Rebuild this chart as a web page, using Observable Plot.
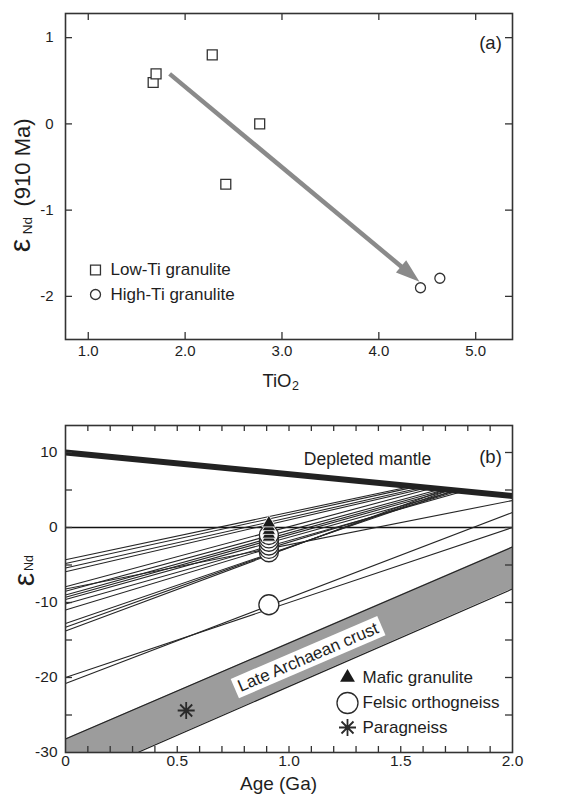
<!DOCTYPE html>
<html><head><meta charset="utf-8">
<script src="https://cdn.jsdelivr.net/npm/d3@7"></script>
<script src="https://cdn.jsdelivr.net/npm/@observablehq/plot@0.6"></script>
<style>
body{margin:0;background:#fff;}
#chart svg{display:block;}
</style></head><body><div id="chart"></div>
<script>
// ---------------- Panel (a) data ----------------
const lowTiO2 = [1.67, 1.70, 2.28, 2.77, 2.42];
const lowEps = [0.48, 0.58, 0.80, 0.00, -0.70];
const highTiO2 = [4.43, 4.63];
const highEps = [-1.90, -1.79];
const trendTiO2 = [1.84, 4.42];
const trendEps = [0.58, -1.83];
const tiO2Ticks = [1, 2, 3, 4, 5];
const epsTicksA = [-2, -1, 0, 1];
const legendA = ["Low-Ti granulite", "High-Ti granulite"];

// ---------------- Panel (b) data ----------------
const evoEps0   = [-4.3, -4.8, -5.4, -5.9, -7.9, -8.2, -8.5, -9.0, -9.3, -9.6, -10.2, -11.0, -12.8, -13.3, -13.8, -20.0, -20.8];
const evoEndAge = [1.55, 1.57, 1.60, 1.62, 1.64, 2.00, 1.68, 1.70, 1.72, 1.75, 1.78, 1.76, 1.74, 1.72, 1.70, 2.00, 2.00];
const evoEndEps = [5.50, 5.45, 5.36, 5.30, 5.24, 3.60, 5.13, 5.07, 5.01, 4.93, 4.84, 4.90, 4.95, 5.01, 5.07, 0.00, 2.00];
const mantleAge = [0, 2];
const mantleEps = [10, 4.2];
const crustAge = [0, 2];
const crustTop = [-28.2, -2.6];
const crustBottom = [-34.2, -8.2];
const sampleAge = 0.91;
const maficEps = [-1.3, -0.9, -0.4, 0.1, 0.6];
const felsicEps = [-3.3, -2.85, -2.4, -1.9, -1.45, -1.0];
const felsicLowEps = [-10.3];
const paraAge = [0.54];
const paraEps = [-24.4];
const crustLabelAge = 1.085, crustLabelEps = -17.3;
const ageTicks = [0, 0.5, 1.0, 1.5, 2.0];
const ageTickMarks = [0.1, 0.2, 0.3, 0.4, 0.5, 0.6, 0.7, 0.8, 0.9, 1.0, 1.1, 1.2, 1.3, 1.4, 1.5, 1.6, 1.7, 1.8, 1.9];
const epsTicksB = [-30, -20, -10, 0, 10];
const epsTickMarksB = [-25, -20, -15, -10, -5, 0, 5, 10];
const legendB = ["Mafic granulite", "Felsic orthogneiss", "Paragneiss"];

// ---------------- common ----------------
const FONT = "'Liberation Sans', Arial, Helvetica, sans-serif";
const W = 577;
const INK = "#1e1e1e";
const AXIS = "#333";
const MID = {textAnchor: "middle", lineAnchor: "middle"};
const START = {textAnchor: "start", lineAnchor: "middle"};

const arrowHead = {draw(ctx, size) {
  const r = Math.sqrt(size / Math.PI);
  ctx.moveTo(0, 0); ctx.lineTo(-0.4 * r, 1.2 * r); ctx.lineTo(0.4 * r, 1.2 * r); ctx.closePath();
}};
const asterisk8 = {draw(ctx, size) {
  const r = Math.sqrt(size / Math.PI);
  const d = r * Math.SQRT1_2;
  ctx.moveTo(0, -r); ctx.lineTo(0, r);
  ctx.moveTo(-r, 0); ctx.lineTo(r, 0);
  ctx.moveTo(-d, -d); ctx.lineTo(d, d);
  ctx.moveTo(-d, d); ctx.lineTo(d, -d);
}};

// ---------------- Panel (a) ----------------
const A = {height: 400, ml: 65, mr: 65, mt: 13, mb: 61, xDomain: [0.765, 5.38], yDomain: [-2.5, 1.28]};
const fwA = W - A.ml - A.mr;
const fhA = A.height - A.mt - A.mb;
const sxA = d3.scaleLinear(A.xDomain, [A.ml, W - A.mr]);
const syA = d3.scaleLinear(A.yDomain, [A.height - A.mb, A.mt]);
const trendAngle = Math.atan2(syA(trendEps[1]) - syA(trendEps[0]), sxA(trendTiO2[1]) - sxA(trendTiO2[0])) * 180 / Math.PI;

const low = lowTiO2.map((x, i) => ({x, y: lowEps[i]}));
const high = highTiO2.map((x, i) => ({x, y: highEps[i]}));
const trend = [{x1: trendTiO2[0], y1: trendEps[0], x2: trendTiO2[1], y2: trendEps[1]}];

const sq = {symbol: "square", r: 5.6, stroke: AXIS, strokeWidth: 1.3, fill: "white"};
const ci = {symbol: "circle", r: 5, stroke: AXIS, strokeWidth: 1.3, fill: "white"};

const plotA = Plot.plot({
  width: W, height: A.height,
  marginLeft: A.ml, marginRight: A.mr, marginTop: A.mt, marginBottom: A.mb,
  style: {fontFamily: FONT, fontSize: "15px", color: INK, background: "white", overflow: "visible"},
  x: {domain: A.xDomain, axis: null},
  y: {domain: A.yDomain, axis: null},
  marks: [
    Plot.arrow(trend, {x1: "x1", y1: "y1", x2: "x2", y2: "y2", stroke: "#8a8a8a", strokeWidth: 4.5, headLength: 0, insetEnd: 16, strokeLinecap: "butt"}),
    Plot.dot(trend, {x: "x2", y: "y2", symbol: arrowHead, r: 20, fill: "#8a8a8a", rotate: trendAngle + 90}),
    Plot.dot(low, {x: "x", y: "y", ...sq}),
    Plot.dot(high, {x: "x", y: "y", ...ci}),
    // legend
    Plot.dot(legendA.slice(0, 1), {frameAnchor: "bottom-left", dx: 30, dy: -69.5, ...sq}),
    Plot.dot(legendA.slice(1, 2), {frameAnchor: "bottom-left", dx: 30, dy: -45, ...ci}),
    Plot.text(legendA.slice(0, 1), {text: d => d, frameAnchor: "bottom-left", dx: 45, dy: -69.5, ...START, fontSize: 17, fill: INK}),
    Plot.text(legendA.slice(1, 2), {text: d => d, frameAnchor: "bottom-left", dx: 45, dy: -45, ...START, fontSize: 17, fill: INK}),
    Plot.text(["(a)"], {text: d => d, frameAnchor: "top-right", dx: -22, dy: 30, ...MID, fontSize: 18.5, fill: INK}),
    // inward ticks
    Plot.ruleX(tiO2Ticks, {x: d => d, insetTop: fhA - 7, stroke: AXIS, strokeWidth: 1.3}),
    Plot.ruleX(tiO2Ticks, {x: d => d, insetBottom: fhA - 7, stroke: AXIS, strokeWidth: 1.3}),
    Plot.ruleY(epsTicksA, {y: d => d, insetRight: fwA - 7, stroke: AXIS, strokeWidth: 1.3}),
    Plot.ruleY(epsTicksA, {y: d => d, insetLeft: fwA - 7, stroke: AXIS, strokeWidth: 1.3}),
    Plot.axisX(tiO2Ticks, {anchor: "bottom", tickSize: 0, tickPadding: 6, tickFormat: d => d.toFixed(1), label: null, fontSize: 15}),
    Plot.axisY(epsTicksA, {anchor: "left", tickSize: 0, tickPadding: 12, tickFormat: d => String(d), label: null, fontSize: 15}),
    // axis titles
    Plot.text(["TiO"], {text: d => d, frameAnchor: "bottom", dx: 2.5, dy: 42, textAnchor: "end", lineAnchor: "middle", fontSize: 18.5, fill: INK}),
    Plot.text(["2"], {text: d => d, frameAnchor: "bottom", dx: 3, dy: 46, ...START, fontSize: 12.5, fill: INK}),
    Plot.text(["ε"], {text: d => d, frameAnchor: "left", dx: -45, dy: 69, rotate: -90, ...MID, fontSize: 30, fill: INK}),
    Plot.text(["Nd"], {text: d => d, frameAnchor: "left", dx: -38, dy: 49, rotate: -90, ...MID, fontSize: 13.5, fill: INK}),
    Plot.text(["(910 Ma)"], {text: d => d, frameAnchor: "left", dx: -43, dy: -14, rotate: -90, ...MID, fontSize: 22, fill: INK}),
    Plot.frame({stroke: AXIS, strokeWidth: 1.6})
  ]
});

// ---------------- Panel (b) ----------------
const B = {height: 396, ml: 65, mr: 65, mt: 25, mb: 44, xDomain: [0, 2], yDomain: [-30, 13.6]};
const fwB = W - B.ml - B.mr;
const fhB = B.height - B.mt - B.mb;
const sxB = d3.scaleLinear(B.xDomain, [B.ml, W - B.mr]);
const syB = d3.scaleLinear(B.yDomain, [B.height - B.mb, B.mt]);
const crustAngle = Math.atan2(syB(crustTop[1]) - syB(crustTop[0]), sxB(crustAge[1]) - sxB(crustAge[0])) * 180 / Math.PI;

const evo = evoEps0.map((e, i) => ({a0: 0, e0: e, a1: evoEndAge[i], e1: evoEndEps[i]}));
const mantle = mantleAge.map((a, i) => ({a, e: mantleEps[i]}));
const crust = crustAge.map((a, i) => ({a, top: crustTop[i], bottom: crustBottom[i]}));

const triB = {symbol: "triangle", r: 5, fill: "#1a1a1a", stroke: "white", strokeWidth: 0.8};
const ciB = {symbol: "circle", r: 9.5, fill: "white", stroke: "#2a2a2a", strokeWidth: 1.3};
const astB = {symbol: asterisk8, r: 8.5, fill: "none", stroke: "#2a2a2a", strokeWidth: 1.8};

const plotB = Plot.plot({
  width: W, height: B.height,
  marginLeft: B.ml, marginRight: B.mr, marginTop: B.mt, marginBottom: B.mb,
  style: {fontFamily: FONT, fontSize: "15px", color: INK, background: "white", overflow: "visible"},
  x: {domain: B.xDomain, axis: null},
  y: {domain: B.yDomain, axis: null},
  marks: [
    Plot.areaY(crust, {x: "a", y1: "bottom", y2: "top", fill: "#9c9c9c", clip: true}),
    Plot.line(crust, {x: "a", y: "top", stroke: "#222", strokeWidth: 1.2, clip: true}),
    Plot.line(crust, {x: "a", y: "bottom", stroke: "#222", strokeWidth: 1.2, clip: true}),
    Plot.ruleY([0], {stroke: "#111", strokeWidth: 1.3}),
    Plot.link(evo, {x1: "a0", y1: "e0", x2: "a1", y2: "e1", stroke: "#262626", strokeWidth: 1.1, clip: true}),
    Plot.line(mantle, {x: "a", y: "e", stroke: "#222", strokeWidth: 6, strokeLinecap: "butt", clip: true}),
    // samples
    Plot.dot(felsicLowEps, {x: () => sampleAge, y: d => d, ...ciB, r: 10}),
    Plot.dot(felsicEps, {x: () => sampleAge, y: d => d, ...ciB}),
    Plot.dot(maficEps, {x: () => sampleAge, y: d => d, ...triB}),
    Plot.dot(paraAge, {x: d => d, y: (d, i) => paraEps[i], ...astB}),
    // labels
    Plot.text(["Late Archaean crust"], {text: d => d, x: () => crustLabelAge, y: () => crustLabelEps, rotate: crustAngle, ...MID, fontSize: 17, fill: INK}),
    Plot.text(["Depleted mantle"], {text: d => d, frameAnchor: "top-right", dx: -145, dy: 34, ...MID, fontSize: 17.5, fill: INK}),
    Plot.text(["(b)"], {text: d => d, frameAnchor: "top-right", dx: -22, dy: 32, ...MID, fontSize: 18.5, fill: INK}),
    // legend
    Plot.dot(legendB.slice(0, 1), {frameAnchor: "bottom-left", dx: 282, dy: -75, ...triB, r: 5.5, stroke: "none"}),
    Plot.dot(legendB.slice(1, 2), {frameAnchor: "bottom-left", dx: 282, dy: -49.5, ...ciB, r: 10.5}),
    Plot.dot(legendB.slice(2, 3), {frameAnchor: "bottom-left", dx: 282, dy: -25, ...astB}),
    Plot.text(legendB.slice(0, 1), {text: d => d, frameAnchor: "bottom-left", dx: 297, dy: -75, ...START, fontSize: 17, fill: INK}),
    Plot.text(legendB.slice(1, 2), {text: d => d, frameAnchor: "bottom-left", dx: 297, dy: -49.5, ...START, fontSize: 17, fill: INK}),
    Plot.text(legendB.slice(2, 3), {text: d => d, frameAnchor: "bottom-left", dx: 297, dy: -25, ...START, fontSize: 17, fill: INK}),
    // inward ticks
    Plot.ruleX(ageTickMarks, {x: d => d, insetTop: fhB - 6, stroke: AXIS, strokeWidth: 1.3}),
    Plot.ruleX(ageTickMarks, {x: d => d, insetBottom: fhB - 6, stroke: AXIS, strokeWidth: 1.3}),
    Plot.ruleY(epsTickMarksB, {y: d => d, insetRight: fwB - 7, stroke: AXIS, strokeWidth: 1.3}),
    Plot.ruleY(epsTickMarksB, {y: d => d, insetLeft: fwB - 7, stroke: AXIS, strokeWidth: 1.3}),
    Plot.axisX(ageTicks, {anchor: "bottom", tickSize: 0, tickPadding: 2, tickFormat: d => d === 0 ? "0" : d.toFixed(1), label: null, fontSize: 15.5}),
    Plot.axisY(epsTicksB, {anchor: "left", tickSize: 0, tickPadding: 8, tickFormat: d => String(d), label: null, fontSize: 15.5}),
    // axis titles
    Plot.text(["Age (Ga)"], {text: d => d, frameAnchor: "bottom", dx: -10.5, dy: 31.5, ...MID, fontSize: 19, fill: INK}),
    Plot.text(["ε"], {text: d => d, frameAnchor: "left", dx: -41, dy: -9.5, rotate: -90, ...MID, fontSize: 30, fill: INK}),
    Plot.text(["Nd"], {text: d => d, frameAnchor: "left", dx: -37, dy: -26, rotate: -90, ...MID, fontSize: 12.5, fill: INK}),
    Plot.frame({stroke: AXIS, strokeWidth: 1.6})
  ]
});

const chart = document.getElementById("chart");
chart.appendChild(plotA);
chart.appendChild(plotB);

// white box behind the rotated crust label
for (const t of plotB.querySelectorAll("text")) {
  if (t.textContent === "Late Archaean crust") {
    const bb = t.getBBox();
    const rect = document.createElementNS("http://www.w3.org/2000/svg", "rect");
    rect.setAttribute("x", bb.x - 4);
    rect.setAttribute("y", bb.y - 1);
    rect.setAttribute("width", bb.width + 8);
    rect.setAttribute("height", bb.height + 2);
    rect.setAttribute("fill", "white");
    rect.setAttribute("stroke", "none");
    const tr = t.getAttribute("transform");
    if (tr) rect.setAttribute("transform", tr);
    t.parentNode.insertBefore(rect, t);
  }
}
</script>
</body></html>
